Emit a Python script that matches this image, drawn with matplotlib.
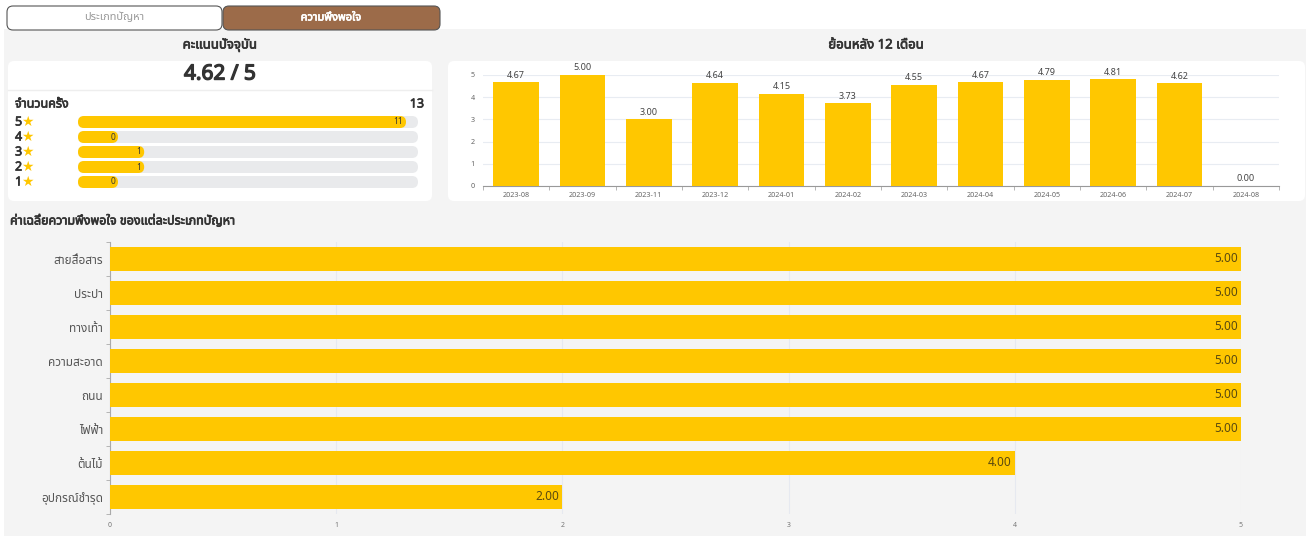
import matplotlib
matplotlib.use('Agg')
import matplotlib.pyplot as plt
import matplotlib.patheffects as pe
from matplotlib import font_manager as fm
from matplotlib.ft2font import FT2Font
from matplotlib.patches import FancyBboxPatch, Rectangle
import numpy as np

# ---- data ----
tabs = ['ประเภทปัญหา', 'ความพึงพอใจ']
score = 4.62
score_max = 5
star_levels = [5, 4, 3, 2, 1]
star_counts = [11, 0, 1, 1, 0]
total_count = 13

months = ['2023-08', '2023-09', '2023-11', '2023-12', '2024-01', '2024-02',
          '2024-03', '2024-04', '2024-05', '2024-06', '2024-07', '2024-08']
month_avg = [4.67, 5.00, 3.00, 4.64, 4.15, 3.73, 4.55, 4.67, 4.79, 4.81, 4.62, 0.00]

categories = ['สายสื่อสาร', 'ประปา', 'ทางเท้า', 'ความสะอาด', 'ถนน', 'ไฟฟ้า',
              'ต้นไม้', 'อุปกรณ์ชำรุด']
cat_avg = [5.00, 5.00, 5.00, 5.00, 5.00, 5.00, 4.00, 2.00]

YELLOW = '#ffc700'
W, H = 1312, 536


def find_thai_font():
    names = []
    for f in fm.fontManager.ttflist:
        try:
            if 0x0E01 in FT2Font(f.fname).get_charmap():
                names.append(f.name)
        except Exception:
            pass
    for pref in ['Noto Sans Thai', 'Noto Sans Thai UI', 'Loma', 'Garuda', 'Kinnari']:
        if pref in names:
            return pref
    return names[0] if names else 'DejaVu Sans'


THAI = find_thai_font()
plt.rcParams['font.family'] = [THAI, 'DejaVu Sans']


def bold(color, w=0.5):
    # the thai face has no bold weight, thicken with a stroke
    return [pe.withStroke(linewidth=w, foreground=color)]


def px(x0, y0, x1, y1):
    return [x0 / W, 1 - y1 / H, (x1 - x0) / W, (y1 - y0) / H]


fig = plt.figure(figsize=(W / 100, H / 100), dpi=100)
fig.patch.set_facecolor('white')

bg = fig.add_axes([0, 0, 1, 1])
bg.set_xlim(0, W)
bg.set_ylim(H, 0)
bg.axis('off')

# panel + tabs
bg.add_patch(Rectangle((4, 29), 1302, 507, facecolor='#f4f4f4', edgecolor='none'))
bg.add_patch(FancyBboxPatch((7, 6), 215, 24, boxstyle='round,pad=0,rounding_size=6',
                            facecolor='white', edgecolor='#555555', lw=0.8))
bg.add_patch(FancyBboxPatch((223, 6), 217, 24, boxstyle='round,pad=0,rounding_size=6',
                            facecolor='#9c6b49', edgecolor='#555555', lw=0.8))
bg.text(114, 18, tabs[0], ha='center', va='center', fontsize=8, color='#999999')
bg.text(331, 18, tabs[1], ha='center', va='center', fontsize=8, color='white',
        path_effects=bold('white', 0.5))

# cards
bg.add_patch(FancyBboxPatch((8, 61), 424, 140, boxstyle='round,pad=0,rounding_size=6',
                            facecolor='white', edgecolor='none'))
bg.add_patch(FancyBboxPatch((448, 61), 857, 140, boxstyle='round,pad=0,rounding_size=6',
                            facecolor='white', edgecolor='none'))
bg.plot([8, 432], [90, 90], color='#eeeeee', lw=1)

DARK = '#333333'
bg.text(220, 45, 'คะแนนปัจจุบัน', ha='center', va='center', fontsize=9.5,
        color=DARK, path_effects=bold(DARK))
bg.text(876, 45, 'ย้อนหลัง 12 เดือน', ha='center', va='center', fontsize=9.5,
        color=DARK, path_effects=bold(DARK))
bg.text(220, 74, f'{score:.2f} / {score_max}', ha='center', va='center', fontsize=15,
        color=DARK, path_effects=bold(DARK, 1.0))
bg.text(15, 104, 'จำนวนครั้ง', ha='left', va='center', fontsize=9,
        color=DARK, path_effects=bold(DARK))
bg.text(424, 104, str(total_count), ha='right', va='center', fontsize=9,
        color=DARK, path_effects=bold(DARK))

# star rows
track_x0, track_w = 78, 340
max_c = max(star_counts)
for i, (lvl, c) in enumerate(zip(star_levels, star_counts)):
    yc = 122 + i * 15
    bg.text(15, yc, str(lvl), ha='left', va='center', fontsize=9,
            color=DARK, path_effects=bold(DARK))
    bg.text(21.5, yc, '★', ha='left', va='center', fontsize=10, color=YELLOW,
            family='DejaVu Sans')
    bg.add_patch(FancyBboxPatch((track_x0, yc - 6), track_w, 12,
                                boxstyle='round,pad=0,rounding_size=6',
                                facecolor='#e9eaec', edgecolor='none'))
    fw = 40 + c / max_c * 288
    bg.add_patch(FancyBboxPatch((track_x0, yc - 6), fw, 12,
                                boxstyle='round,pad=0,rounding_size=6',
                                facecolor=YELLOW, edgecolor='none'))
    bg.text(track_x0 + fw - 3, yc, str(c), ha='right', va='center', fontsize=6,
            color=DARK)

bg.text(10, 221, 'ค่าเฉลี่ยความพึงพอใจ ของแต่ละประเภทปัญหา', ha='left', va='center',
        fontsize=9, color=DARK, path_effects=bold(DARK))

# monthly chart
ax1 = fig.add_axes(px(483, 75, 1279, 186))
ax1.set_facecolor('none')
x = np.arange(len(months))
ax1.bar(x, month_avg, width=0.69, color=YELLOW, zorder=3)
for xi, v in zip(x, month_avg):
    ax1.text(xi, v + 0.12, f'{v:.2f}', ha='center', va='bottom', fontsize=6.5,
             color='#444444', clip_on=False)
ax1.set_xlim(-0.5, len(months) - 0.5)
ax1.set_ylim(0, 5)
ax1.set_yticks(range(6))
ax1.set_xticks(x)
ax1.set_xticklabels(months)
ax1.set_xticks(np.arange(len(months) + 1) - 0.5, minor=True)
ax1.tick_params(axis='x', which='major', length=0, labelsize=5.2, labelcolor='#666666',
                pad=4)
ax1.tick_params(axis='x', which='minor', length=3, color='#aaaaaa')
ax1.tick_params(axis='y', length=0, labelsize=5.2, labelcolor='#666666', pad=6)
ax1.grid(axis='y', color='#e8ecf2', lw=0.8, zorder=0)
for s in ['top', 'right', 'left']:
    ax1.spines[s].set_visible(False)
ax1.spines['bottom'].set_color('#999999')

# category chart
ax2 = fig.add_axes(px(110, 242, 1241, 514))
ax2.set_facecolor('none')
y = np.arange(len(categories))
ax2.barh(y, cat_avg, height=0.68, color=YELLOW, zorder=3)
for yi, v in zip(y, cat_avg):
    ax2.text(v - 0.015, yi, f'{v:.2f}', ha='right', va='center', fontsize=8.5,
             color='#5a4a10', zorder=4)
ax2.set_xlim(0, 5)
ax2.set_ylim(len(categories) - 0.5, -0.5)
ax2.set_yticks(y)
ax2.set_yticklabels(categories)
ax2.set_yticks(np.arange(len(categories) + 1) - 0.5, minor=True)
ax2.tick_params(axis='y', which='major', length=0, labelsize=8.5, labelcolor='#555555',
                pad=5)
ax2.tick_params(axis='y', which='minor', length=3, color='#aaaaaa')
ax2.set_xticks(range(6))
ax2.tick_params(axis='x', length=0, labelsize=5, labelcolor='#777777', pad=6)
ax2.grid(axis='x', color='#e6e9f0', lw=0.8, zorder=0)
for s in ['top', 'right', 'bottom']:
    ax2.spines[s].set_visible(False)
ax2.spines['left'].set_color('#aaaaaa')

fig.savefig('out.png', dpi=100, facecolor='white')
